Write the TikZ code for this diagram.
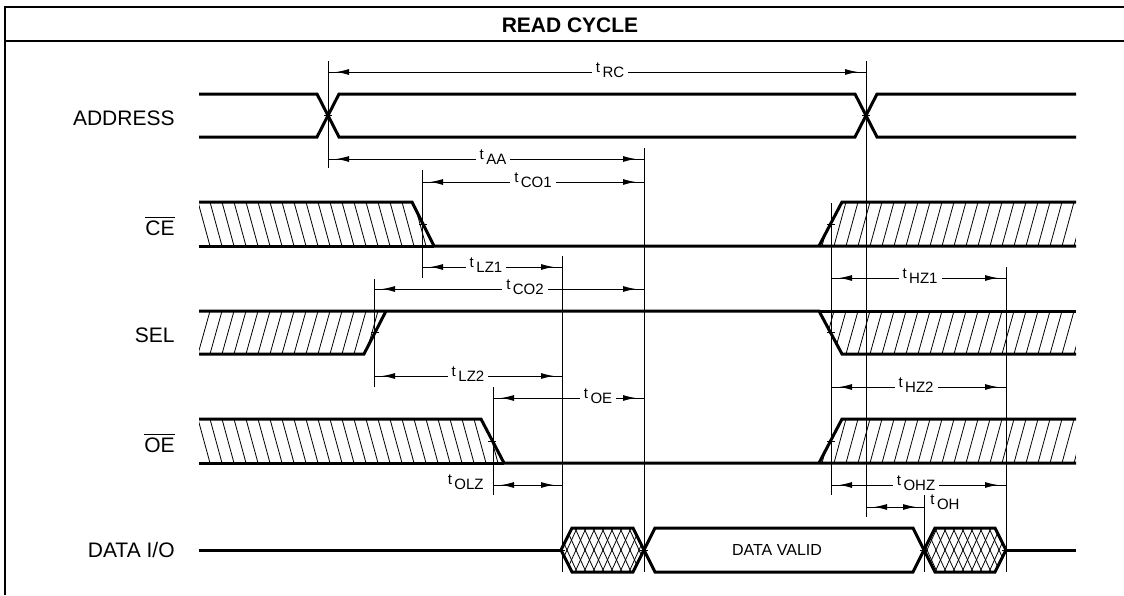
\documentclass[tikz,border=0pt]{standalone}
\usepackage{fontspec}
\setmainfont{Liberation Sans}
\usetikzlibrary{arrows.meta,decorations.markings}

\newcommand{\tsub}[1]{t\,\raisebox{-0.7ex}{#1}}

\tikzset{
  sig/.style={line width=1.5pt},
  guide/.style={line width=0.5pt},
  hatchln/.style={line width=0.4pt},
  dimline/.style={line width=0.5pt, postaction={decorate},
    decoration={markings,
      mark=at position 4pt with {\arrowreversed{Latex[length=6.5pt,width=3pt]}},
      mark=at position -4pt with {\arrow{Latex[length=6.5pt,width=3pt]}}}},
  tlab/.style={fill=white, inner sep=2pt, font=\fontsize{7.5}{9}\selectfont},
  rowlab/.style={anchor=east, inner sep=0pt, font=\fontsize{10.5}{12}\selectfont},
}

\begin{document}
\begin{tikzpicture}[x=0.5pt,y=-0.5pt]
    \useasboundingbox (0,0) rectangle (1124,595);
    % frame and title
    \draw[line width=1.2pt] (5,595) -- (5,7) -- (1124,7);
    \draw[line width=0.9pt] (5,41) -- (1124,41);
    \node[font=\bfseries\fontsize{10.5}{12}\selectfont] (title) at (570,25) {READ CYCLE};

    % row labels
    \node[rowlab] (addr) at (175,118) {ADDRESS};
    \node[rowlab] (ce) at (175,226) {$\overline{\hbox{CE}}$};
    \node[rowlab] (sel) at (175,335) {SEL};
    \node[rowlab] (oe) at (175,443) {$\overline{\hbox{OE}}$};
    \node[rowlab] (dio) at (175,550) {DATA I/O};

    % hatching, "\" then "/"
    \foreach \a/\b/\c/\d/\ya/\yb in {199/412/434/199/202/246, 199/481/504/199/419/463, 842/1076/1076/819/354/311}{
        \begin{scope}
            \clip (\a,\ya) -- (\b,\ya) -- (\c,\yb) -- (\d,\yb) -- cycle;
            \foreach \x in {150,162,...,1090} \draw[hatchln] (\x,\ya) -- (\x+12,\yb);
        \end{scope}
    }
    \foreach \a/\b/\c/\d/\ya/\yb in {199/386/364/199/311/354, 842/1076/1076/819/202/246, 842/1076/1076/819/419/463}{
        \begin{scope}
            \clip (\a,\ya) -- (\b,\ya) -- (\c,\yb) -- (\d,\yb) -- cycle;
            \foreach \x in {150,162,...,1090} \draw[hatchln] (\x+12,\ya) -- (\x,\yb);
        \end{scope}
    }
    % cross hatching
    \foreach \l/\r in {561/644, 924/1006}{
        \begin{scope}
            \clip (\l,550) -- (\l+12,528) -- (\r-10,528) -- (\r,550) -- (\r-10,572) -- (\l+12,572) -- cycle;
            \foreach \x in {530,539,...,1030}{
                \draw[hatchln] (\x,528) -- (\x+20,572);
                \draw[hatchln] (\x+20,528) -- (\x,572);
            }
        \end{scope}
    }

    % signals
    \draw[sig] (199,94) -- (317,94) -- (339,137) -- (855,137) -- (877,94) -- (1076,94);
    \draw[sig] (199,137) -- (317,137) -- (339,94) -- (855,94) -- (877,137) -- (1076,137);
    \draw[sig] (199,202) -- (412,202) -- (434,246) -- (1076,246);
    \draw[sig] (199,246) -- (434,246);
    \draw[sig] (819,246) -- (842,202) -- (1076,202);
    \draw[sig] (199,354) -- (364,354) -- (386,311);
    \draw[sig] (199,311) -- (819,311) -- (842,354) -- (1076,354);
    \draw[sig] (819,311) -- (1076,311);
    \draw[sig] (199,419) -- (481,419) -- (504,463) -- (1076,463);
    \draw[sig] (199,463) -- (504,463);
    \draw[sig] (819,463) -- (842,419) -- (1076,419);
    \draw[sig] (199,550) -- (561,550);
    \draw[sig] (1006,550) -- (1076,550);
    \foreach \l/\r in {561/644, 644/924, 924/1006}
        \draw[sig] (\l,550) -- (\l+11,528) -- (\r-11,528) -- (\r,550) -- (\r-11,572) -- (\l+11,572) -- cycle;
    \node[font=\fontsize{8}{9}\selectfont] (valid) at (777,550) {DATA VALID};

    % ticks at the transitions
    \foreach \x/\y in {328/115.5, 866/115.5, 423/224, 831/224, 375/332.5, 831/332.5, 492/441, 831/441, 561/550, 644/550, 924/550, 1006/550}
        \draw[guide] (\x-4,\y) -- (\x+4,\y);

    % guide lines
    \foreach \x/\ya/\yb in {328/61/168, 866/61/517, 644/148/572, 422/170/278, 562/256/572, 1006/267/572, 831/203/495, 374/279/387, 493/387/495, 924/495/572}
        \draw[guide] (\x,\ya) -- (\x,\yb);

    % timing arrows
    \foreach \xa/\xb/\yy/\xl/\lab [count=\i] in {328/866/72/610/RC, 328/644/159/493/AA, 422/644/182/533/CO1, 422/562/267/486/LZ1, 831/1006/278/920/HZ1, 374/644/289/525/CO2, 374/562/376/468/LZ2, 831/1006/387/916/HZ2, 493/644/398/598/OE, 831/1006/485/916/OHZ}{
        \draw[dimline] (\xa,\yy) -- (\xb,\yy);
        \node[tlab] (tm\i) at (\xl,\yy-2) {\tsub{\lab}};
    }
    \draw[dimline] (493,485) -- (562,485);
    \node[tlab, anchor=east, fill=none] (tolz) at (488,482) {\tsub{OLZ}};
    \draw[dimline] (866,507) -- (924,507);
    \node[tlab, anchor=west, fill=none] (toh) at (926,502) {\tsub{OH}};
\end{tikzpicture}
\end{document}
